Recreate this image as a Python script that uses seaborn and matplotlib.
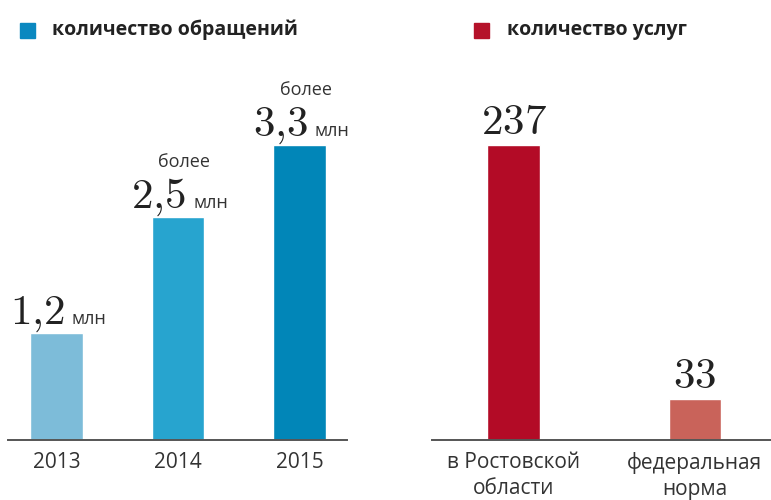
import matplotlib
matplotlib.use("Agg")
import matplotlib.pyplot as plt
import matplotlib.patches as mpatches
import pandas as pd
import seaborn as sns

# data
years = ["2013", "2014", "2015"]
requests_mln = [1.2, 2.5, 3.3]
requests_labels = ["1{,}2", "2{,}5", "3{,}3"]
requests_prefix = ["", "более", "более"]
blue_colors = ["#7dbcd9", "#27a4cf", "#0186b8"]

places = ["в Ростовской\nобласти", "федеральная\nнорма"]
services = [237, 33]
red_colors = ["#b30b26", "#c9635a"]

legend_left = "количество обращений"
legend_right = "количество услуг"

sns.set_theme(style="white")
plt.rcParams["font.family"] = ["Open Sans", "DejaVu Sans"]
plt.rcParams["mathtext.fontset"] = "cm"

sans = ["Open Sans", "DejaVu Sans"]
txt_col = "#333333"

fig = plt.figure(figsize=(7.71, 5.0), dpi=100)
ax1 = fig.add_axes([8 / 771, 0.12, 339 / 771, 0.68])
ax2 = fig.add_axes([432 / 771, 0.12, 339 / 771, 0.68])

df1 = pd.DataFrame({"year": years, "val": requests_mln})
sns.barplot(data=df1, x="year", y="val", hue="year", palette=blue_colors,
            width=0.43, legend=False, ax=ax1, saturation=1)
ax1.set_xlim(-0.4, 2.39)
ax1.set_ylim(0, 3.3 * 340 / 295)

df2 = pd.DataFrame({"place": places, "val": services})
sns.barplot(data=df2, x="place", y="val", hue="place", palette=red_colors,
            width=0.29, legend=False, ax=ax2, saturation=1)
ax2.set_xlim(-0.45, 1.42)
ax2.set_ylim(0, 237 * 340 / 295)

for ax in (ax1, ax2):
    sns.despine(ax=ax, left=True)
    ax.spines["bottom"].set_color("#555555")
    ax.spines["bottom"].set_linewidth(1.4)
    ax.set_xlabel("")
    ax.set_ylabel("")
    ax.set_yticks([])
    ax.tick_params(axis="x", length=0, pad=9, labelsize=15, labelcolor=txt_col)
    for lab in ax.get_xticklabels():
        lab.set_family(sans)
        lab.set_linespacing(1.25)

# value labels on the left
for i, (v, lab, pre) in enumerate(zip(requests_mln, requests_labels, requests_prefix)):
    ax1.annotate("$" + lab + "$", (i, v), xytext=(8, 9), textcoords="offset pixels",
                 ha="right", va="baseline", fontsize=31, color="#222222")
    ax1.annotate("млн", (i, v), xytext=(15, 9), textcoords="offset pixels",
                 ha="left", va="baseline", fontsize=13, family=sans, color=txt_col)
    if pre:
        ax1.annotate(pre, (i, v), xytext=(6, 50), textcoords="offset pixels",
                     ha="center", va="baseline", fontsize=13, family=sans, color=txt_col)

for i, v in enumerate(services):
    ax2.annotate("$" + str(v) + "$", (i, v), xytext=(0, 11), textcoords="offset pixels",
                 ha="center", va="baseline", fontsize=31, color="#222222")

# legend squares and captions
fig.patches.append(mpatches.Rectangle((20 / 771, 1 - 38 / 500), 15 / 771, 15 / 500,
                                      transform=fig.transFigure, color="#0a88c0"))
fig.text(52 / 771, 1 - 30 / 500, legend_left, ha="left", va="center",
         fontsize=14, fontweight="bold", family=sans, color="#222222")
fig.patches.append(mpatches.Rectangle((474 / 771, 1 - 38 / 500), 15 / 771, 15 / 500,
                                      transform=fig.transFigure, color="#b5122a"))
fig.text(507 / 771, 1 - 30 / 500, legend_right, ha="left", va="center",
         fontsize=14, fontweight="bold", family=sans, color="#222222")

fig.savefig("out.png", dpi=100)
